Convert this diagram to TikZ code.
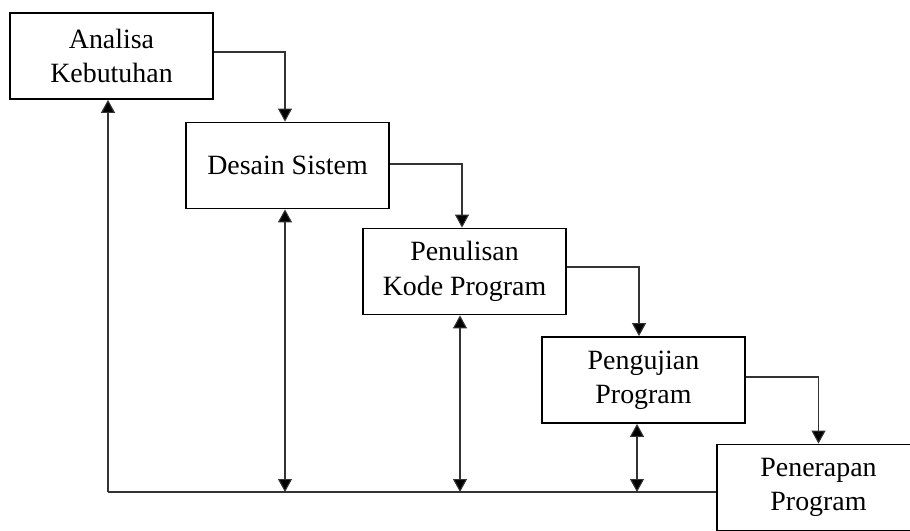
\documentclass[tikz,border=0pt]{standalone}
\usepackage{fontspec}
\setmainfont{Liberation Serif}
\usetikzlibrary{arrows.meta}
\begin{document}
\begin{tikzpicture}[x=1bp,y=-1bp,
  stage/.style={draw=black, line width=1.8bp, fill=white, minimum width=203bp, minimum height=86bp,
    inner sep=0pt, align=center, font=\fontsize{28}{34.5}\selectfont},
  tip/.tip={Triangle[length=13bp 0,width=14bp 0,fill=black]},
  link/.style={draw=black!80, line width=1.1bp, -tip},
  dlink/.style={draw=black!80, line width=1.1bp, tip-tip},
  plain/.style={draw=black!80, line width=1.1bp}]
\useasboundingbox (0,0) rectangle (910,531);
\clip (0,0) rectangle (910,531);
\fill[white] (0,0) rectangle (910,531);

\node[stage] (b1) at (111.5,56) {Analisa\\Kebutuhan};
\node[stage] (b2) at (287.5,165.5) {Desain Sistem};
\node[stage] (b3) at (464.5,271.5) {Penulisan\\Kode Program};
\node[stage] (b4) at (643.5,380) {Pengujian\\Program};
\node[stage] (b5) at (818.5,487.5) {Penerapan\\Program};

\coordinate (fb) at (108,492);
\coordinate (f2) at (285,492);
\coordinate (f3) at (460,492);
\coordinate (f4) at (637,492);

\draw[link] ([yshift=4bp]b1.east) -| ([xshift=-2.5bp]b2.north);
\draw[link] ([yshift=1.5bp]b2.east) -| ([xshift=-2.5bp]b3.north);
\draw[link] ([yshift=4.5bp]b3.east) -| ([xshift=-4.5bp]b4.north);
\draw[link] ([yshift=3bp]b4.east) -| (b5.north);

\draw[plain] (fb) -- (b5.west |- fb);
\draw[link] (fb) -- (b1.south -| fb);
\draw[dlink] (b2.south -| f2) -- (f2);
\draw[dlink] (b3.south -| f3) -- (f3);
\draw[dlink] (b4.south -| f4) -- (f4);
\end{tikzpicture}
\end{document}
